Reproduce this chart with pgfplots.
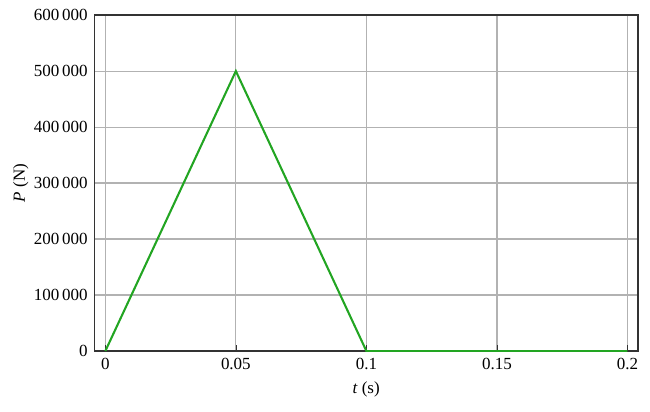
\documentclass[border=0pt]{standalone}
\usepackage{fontspec}
\setmainfont{Liberation Serif}
\usepackage{pgfplots}
\pgfplotsset{compat=1.18}
\definecolor{pgreen}{RGB}{34,165,34}
\begin{document}
\begin{tikzpicture}
\begin{axis}[
    scale only axis,
    width=288pt, height=178pt,
    xmin=-0.0042, xmax=0.204,
    ymin=0, ymax=600000,
    xtick={0,0.05,0.1,0.15,0.2},
    ytick={0,100000,...,600000},
    scaled ticks=false,
    /pgf/number format/assume math mode=true,
    xticklabel style={/pgf/number format/.cd, fixed, precision=2},
    yticklabel style={/pgf/number format/.cd, fixed, 1000 sep={\,}},
    tick label style={font=\small},
    grid=major,
    major grid style={gray!60, line width=0.6pt},
    axis line style={black!80, line width=0.8pt},
    tick style={black!80},
    tick align=inside,
    major tick length=3pt,
    ytick style={draw=none},
    xtick pos=bottom,
    xlabel={\textit{t} (s)},
    ylabel={\textit{P} (N)},
    label style={font=\small},
    ylabel style={yshift=-4pt},
]
\addplot[pgreen, line width=1.1pt] coordinates {
    (0,0) (0.05,500000) (0.1,0) (0.2,0)
};
\coordinate (bl) at (rel axis cs:0,0);
\coordinate (tr) at (rel axis cs:1,1);
\end{axis}
\pgfresetboundingbox
\path ([shift={(-50pt,-32pt)}]bl) rectangle ([shift={(6.4pt,8pt)}]tr);
\end{tikzpicture}
\end{document}
